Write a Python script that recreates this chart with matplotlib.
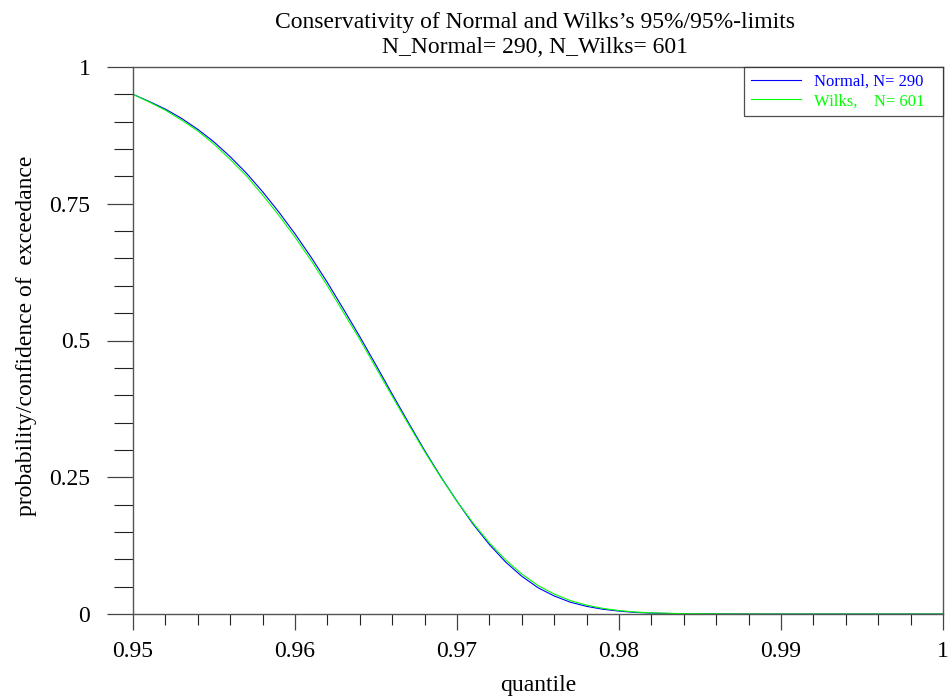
"""Conservativity of Normal and Wilks's 95%/95%-limits (N_Normal=290, N_Wilks=601)."""

import matplotlib
matplotlib.use("Agg")
import matplotlib.pyplot as plt
from matplotlib.ticker import MultipleLocator, FixedLocator

plt.rcParams["font.family"] = ["Liberation Serif", "DejaVu Serif"]

# ---- data ----------------------------------------------------------------

QUANTILE = [0.950, 0.951, 0.952, 0.953, 0.954, 0.955, 0.956, 0.957, 0.958,
            0.959, 0.960, 0.961, 0.962, 0.963, 0.964, 0.965, 0.966, 0.967,
            0.968, 0.969, 0.970, 0.971, 0.972, 0.973, 0.974, 0.975, 0.976,
            0.977, 0.978, 0.979, 0.980, 0.981, 0.982, 0.984, 0.987, 0.990,
            1.000]

NORMAL_CONF = [0.950, 0.937, 0.923, 0.906, 0.886, 0.863, 0.836, 0.806, 0.772,
               0.735, 0.695, 0.652, 0.606, 0.557, 0.507, 0.455, 0.402, 0.350,
               0.299, 0.251, 0.206, 0.164, 0.127, 0.095, 0.069, 0.048, 0.033,
               0.0215, 0.0140, 0.0087, 0.0053, 0.0029, 0.0016, 0.0004, 0.0001,
               0.0, 0.0]

WILKS_CONF = [0.950, 0.936, 0.921, 0.903, 0.883, 0.859, 0.831, 0.801, 0.766,
              0.729, 0.689, 0.646, 0.600, 0.551, 0.502, 0.450, 0.398, 0.347,
              0.297, 0.250, 0.206, 0.166, 0.130, 0.099, 0.073, 0.052, 0.0365,
              0.0245, 0.0162, 0.0102, 0.0063, 0.0036, 0.0021, 0.0006, 0.0001,
              0.0, 0.0]

X_TICKS = [0.95, 0.96, 0.97, 0.98, 0.99, 1.0]
X_TICK_LABELS = ["0.95", "0.96", "0.97", "0.98", "0.99", "1"]
Y_TICKS = [0, 0.25, 0.5, 0.75, 1.0]
Y_TICK_LABELS = ["0", "0.25", "0.5", "0.75", "1"]

W, H = 948, 700


def main() -> None:
    fig = plt.figure(figsize=(W / 100, H / 100), dpi=100)
    # axes box in pixels: x 133..943, y 67..614
    ax = fig.add_axes([133 / W, 1 - 614 / H, 810 / W, 547 / H])

    ax.plot(QUANTILE, NORMAL_CONF, color="#0000ff", lw=0.8, label="Normal, N= 290")
    ax.plot(QUANTILE, WILKS_CONF, color="#00ff00", lw=0.8, label="Wilks,    N= 601")

    ax.set_xlim(0.95, 1.0)
    ax.set_ylim(0, 1)

    ax.xaxis.set_major_locator(FixedLocator(X_TICKS))
    ax.set_xticklabels(X_TICK_LABELS)
    ax.xaxis.set_minor_locator(MultipleLocator(0.002))
    ax.yaxis.set_major_locator(FixedLocator(Y_TICKS))
    ax.set_yticklabels(Y_TICK_LABELS)
    ax.yaxis.set_minor_locator(MultipleLocator(0.05))

    ax.tick_params(axis="x", which="major", direction="out", length=11.5,
                   width=0.9, color="#444444", labelsize=17, pad=8)
    ax.tick_params(axis="x", which="minor", direction="out", length=8,
                   width=0.8, color="#222222")
    ax.tick_params(axis="y", which="major", direction="out", length=18.7,
                   width=0.9, color="#444444", labelsize=17, pad=12)
    ax.tick_params(axis="y", which="minor", direction="out", length=13.5,
                   width=0.8, color="#222222")

    for side in ("left", "right", "top", "bottom"):
        ax.spines[side].set_color("#555555")
        ax.spines[side].set_linewidth(1.0)

    # legend box spans x 744..943 px, hugging the top-right corner
    x0 = (744 - 133) / 810
    leg = ax.legend(loc="upper left", bbox_to_anchor=(x0, 0.0, 1 - x0, 1.0),
                    mode="expand", fontsize=12, frameon=True, fancybox=False,
                    borderaxespad=0, handlelength=3.0, handletextpad=0.75,
                    borderpad=0.42, labelspacing=0.2)
    leg.get_frame().set_edgecolor("#222222")
    leg.get_frame().set_linewidth(0.9)
    for txt, col in zip(leg.get_texts(), ["#0000ff", "#00ff00"]):
        txt.set_color(col)

    fig.text(535 / W, 1 - 28 / H,
             "Conservativity of Normal and Wilks\u2019s 95%/95%-limits",
             ha="center", va="baseline", fontsize=17)
    fig.text(535 / W, 1 - 53 / H, "N_Normal= 290, N_Wilks= 601",
             ha="center", va="baseline", fontsize=17)

    fig.text(538 / W, 1 - 685 / H, "quantile", ha="center", va="center", fontsize=17)
    fig.text(27 / W, 1 - 336 / H, "probability/confidence of  exceedance",
             ha="center", va="center", rotation=90, fontsize=17)

    fig.savefig("out.png", dpi=100)
    plt.close(fig)


if __name__ == "__main__":
    main()
